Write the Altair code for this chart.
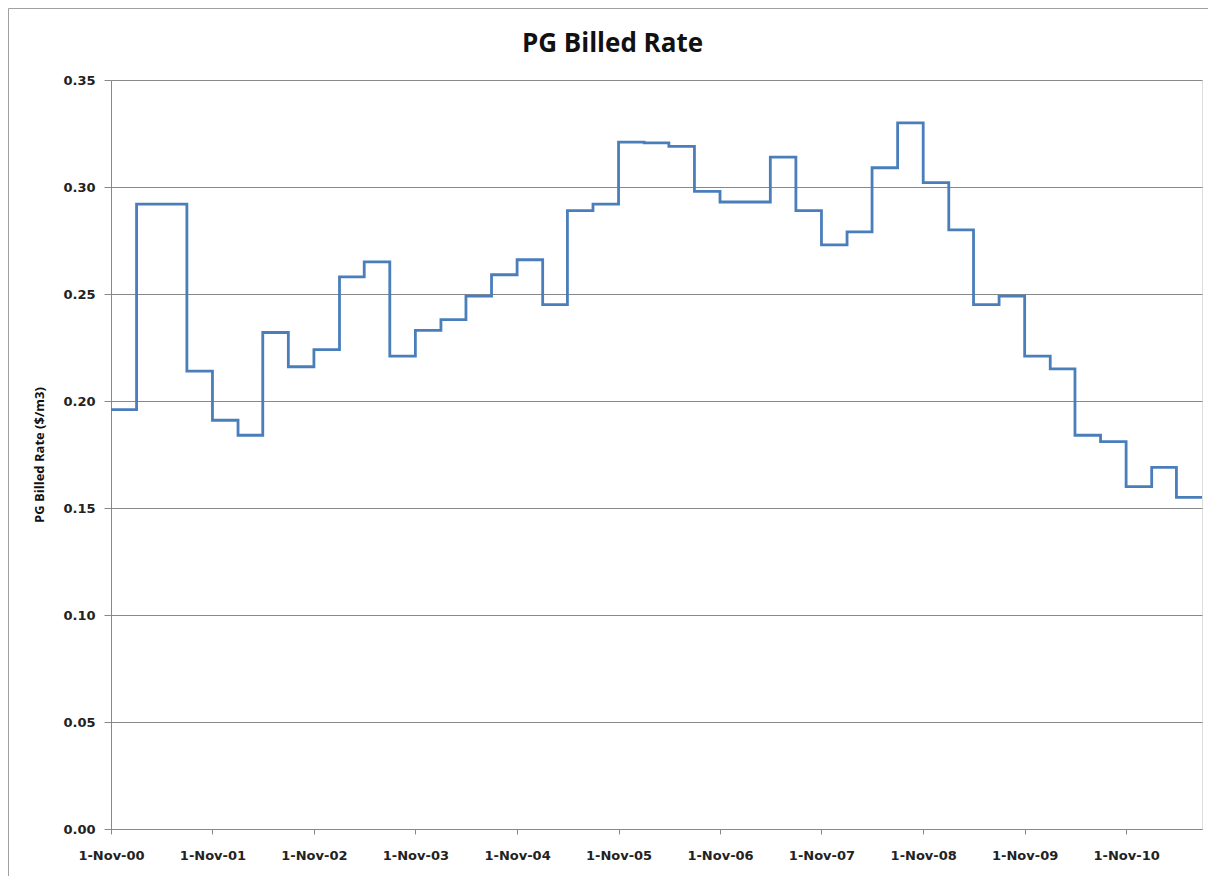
import altair as alt
import pandas as pd

# Quarter start dates (local time) and the billed rate in effect from that date
dates = [
    "2000-11-01", "2001-02-01", "2001-05-01", "2001-08-01",
    "2001-11-01", "2002-02-01", "2002-05-01", "2002-08-01",
    "2002-11-01", "2003-02-01", "2003-05-01", "2003-08-01",
    "2003-11-01", "2004-02-01", "2004-05-01", "2004-08-01",
    "2004-11-01", "2005-02-01", "2005-05-01", "2005-08-01",
    "2005-11-01", "2006-02-01", "2006-05-01", "2006-08-01",
    "2006-11-01", "2007-02-01", "2007-05-01", "2007-08-01",
    "2007-11-01", "2008-02-01", "2008-05-01", "2008-08-01",
    "2008-11-01", "2009-02-01", "2009-05-01", "2009-08-01",
    "2009-11-01", "2010-02-01", "2010-05-01", "2010-08-01",
    "2010-11-01", "2011-02-01", "2011-05-01", "2011-08-01",
]
rates = [
    0.196, 0.292, 0.292, 0.214,
    0.191, 0.184, 0.232, 0.216,
    0.224, 0.258, 0.265, 0.221,
    0.233, 0.238, 0.249, 0.259,
    0.266, 0.245, 0.289, 0.292,
    0.321, 0.3206, 0.319, 0.298,
    0.293, 0.293, 0.314, 0.289,
    0.273, 0.279, 0.309, 0.330,
    0.302, 0.280, 0.245, 0.249,
    0.221, 0.215, 0.184, 0.181,
    0.160, 0.169, 0.155, 0.155,
]
tick_years = list(range(2000, 2011))
y_ticks = [0.0, 0.05, 0.10, 0.15, 0.20, 0.25, 0.30, 0.35]

df = pd.DataFrame({"date": [d + "T00:00:00" for d in dates], "rate": rates})

TICK_FONT = "DejaVu Sans"
FONT = "Open Sans"
GRAY = "#888888"
W, H = 1091, 749

line = alt.Chart(df).mark_line(
    interpolate="step-after", color="#4a7ebb", strokeWidth=2.8, clip=False
).encode(
    x=alt.X(
        "date:T",
        scale=alt.Scale(domain=[alt.DateTime(year=2000, month=11, date=1),
                                alt.DateTime(year=2011, month=8, date=1)]),
        axis=alt.Axis(
            values=[alt.DateTime(year=y, month=11, date=1) for y in tick_years],
            format="%-d-%b-%y", title=None, grid=False,
            domainColor=GRAY, tickColor=GRAY, tickSize=5,
            labelPadding=15, labelFont=TICK_FONT, labelFontSize=13,
            labelFontWeight="bold", labelColor="#222222",
            labelFlush=False, labelOverlap=False,
        ),
    ),
    y=alt.Y(
        "rate:Q",
        scale=alt.Scale(domain=[0, 0.35], nice=False, zero=True),
        axis=alt.Axis(
            values=y_ticks, format=".2f", title="PG Billed Rate ($/m3)",
            grid=True, gridColor=GRAY, gridWidth=1,
            domainColor=GRAY, tickColor=GRAY, tickSize=7,
            labelPadding=9, labelFont=TICK_FONT, labelFontSize=13,
            labelFontWeight="bold", labelColor="#222222",
            titleFont=FONT, titleFontSize=13, titleFontWeight="bold",
            titleColor="#111111", titlePadding=16,
        ),
    ),
)

frame = alt.Chart(pd.DataFrame({"k": [0]})).mark_rule(color="#a0a0a0", strokeWidth=1).encode(
    x=alt.value(-102.5), y=alt.value(-71.5), y2=alt.value(H + 60)
) + alt.Chart(pd.DataFrame({"k": [0]})).mark_rule(color="#a0a0a0", strokeWidth=1).encode(
    x=alt.value(-102.5), x2=alt.value(W + 12), y=alt.value(-71.5)
)

chart = alt.layer(frame, line).properties(
    width=W, height=H,
    title=alt.TitleParams(
        "PG Billed Rate", font=FONT, fontSize=26, fontWeight="bold",
        color="#111111", anchor="middle", dx=-44, offset=-70,
        baseline="alphabetic",
    ),
    autosize=alt.AutoSizeParams(type="none"),
    padding={"left": 103, "top": 72, "right": 6, "bottom": 47},
).configure_view(stroke=None).configure(background="white")

chart.save("out.html", embed_options={"renderer": "svg", "actions": False})
